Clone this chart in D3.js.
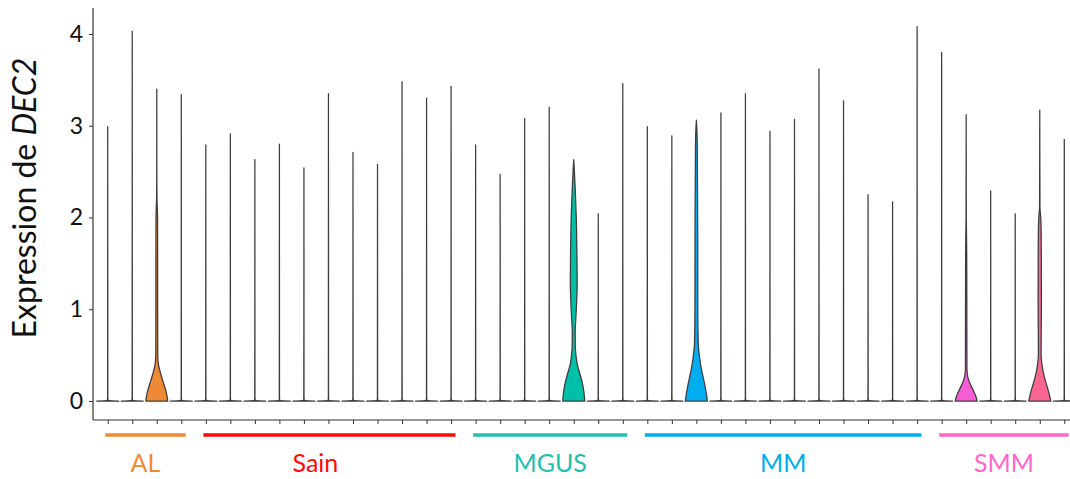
<!DOCTYPE html>
<html>
<head>
<meta charset="utf-8">
<script src="https://cdn.jsdelivr.net/npm/d3@7"></script>
<style>
  html, body { margin: 0; padding: 0; background: #fff; }
  svg { display: block; }
</style>
</head>
<body>
<svg id="chart" width="1070" height="479"></svg>
<script>
// ---------------- DATA ----------------
const groups = ["AL", "Sain", "MGUS", "MM", "SMM"];
const groupSizes = [4, 11, 7, 12, 6];
const groupColors = ["#EE8A35", "#FF0A0A", "#1EC0AF", "#00AEEF", "#FF66CC"];

const sampleIds = [
  "AL1","AL2","AL3","AL4",
  "Sain1","Sain2","Sain3","Sain4","Sain5","Sain6","Sain7","Sain8","Sain9","Sain10","Sain11",
  "MGUS1","MGUS2","MGUS3","MGUS4","MGUS5","MGUS6","MGUS7",
  "MM1","MM2","MM3","MM4","MM5","MM6","MM7","MM8","MM9","MM10","MM11","MM12",
  "SMM1","SMM2","SMM3","SMM4","SMM5","SMM6"
];
// maximum expression per sample (top of each violin)
const maxExpr = [
  2.99, 4.03, 3.40, 3.34,
  2.79, 2.91, 2.63, 2.80, 2.54, 3.35, 2.71, 2.58, 3.48, 3.30, 3.43,
  2.79, 2.47, 3.08, 3.20, 2.63, 2.04, 3.46,
  2.99, 2.89, 3.06, 3.14, 3.35, 2.94, 3.07, 3.62, 3.27, 2.25, 2.17, 4.08,
  3.80, 3.12, 2.29, 2.04, 3.17, 2.85
];
// density profiles [expression, relative half-width]
const profileDefault = [[0, 1], [0.004, 0.12], [0.012, 0.02], [0.04, 0.008]];
const profileAL3   = [[0,1],[0.1,0.85],[0.2,0.6],[0.3,0.35],[0.4,0.15],[0.5,0.09],[1.0,0.08],[1.5,0.08],[2.0,0.07],[2.2,0.02],[2.4,0.006]];
const profileMGUS5 = [[0,1],[0.1,0.92],[0.2,0.77],[0.3,0.55],[0.4,0.32],[0.5,0.2],[0.6,0.14],[0.75,0.13],[0.9,0.19],[1.1,0.27],[1.3,0.31],[1.6,0.29],[2.0,0.23],[2.3,0.14],[2.5,0.06]];
const profileMM3   = [[0,1],[0.1,0.88],[0.2,0.72],[0.34,0.47],[0.48,0.29],[0.63,0.17],[1.0,0.13],[2.0,0.12],[2.8,0.08],[3.0,0.03]];
const profileSMM2  = [[0,1],[0.06,0.85],[0.12,0.63],[0.19,0.35],[0.26,0.15],[0.35,0.07],[1.6,0.05],[2.0,0.012]];
const profileSMM5  = [[0,1],[0.12,0.76],[0.26,0.42],[0.37,0.23],[0.52,0.12],[1.1,0.15],[1.8,0.13],[2.0,0.09],[2.1,0.02]];
const profiles = { "AL3": profileAL3, "MGUS5": profileMGUS5, "MM3": profileMM3, "SMM2": profileSMM2, "SMM5": profileSMM5 };
const fillOverride = { "AL3": "#EE8A35", "MGUS5": "#00BFA9", "MM3": "#00AEEF", "SMM2": "#F55DD5", "SMM5": "#FA6690" };

const yTicks = [0, 1, 2, 3, 4];

// ---------------- LAYOUT ----------------
const svg = d3.select("#chart");
const axisLeft = 93, axisBottom = 420, axisTop = 8;
const plotRightFull = 1079;           // panel continues beyond the crop
const labelShift = { "Sain": -14 };

const x = d3.scalePoint().domain(sampleIds).range([axisLeft, plotRightFull]).padding(0.6);
const y = d3.scaleLinear().domain([-0.207, 4.283]).range([axisBottom, axisTop]);
const halfW = x.step() * 0.45;

const groupOf = [];
groups.forEach((g, gi) => { for (let k = 0; k < groupSizes[gi]; k++) groupOf.push(gi); });

// ---------------- VIOLINS ----------------
const area = d3.area()
  .curve(d3.curveMonotoneY)
  .y(d => y(d[0]));

sampleIds.forEach((id, i) => {
  const cx = x(id);
  const base = profiles[id] || profileDefault;
  const pts = base.filter(p => p[0] < maxExpr[i]).concat([[maxExpr[i], 0]]);
  const fill = fillOverride[id] || groupColors[groupOf[i]];
  svg.append("path")
    .datum(pts)
    .attr("d", area.x0(d => cx - d[1] * halfW).x1(d => cx + d[1] * halfW))
    .attr("fill", fill)
    .attr("stroke", "#3c3c3c")
    .attr("stroke-width", 1.25)
    .attr("stroke-linejoin", "round");
});

// ---------------- AXES ----------------
const fontFam = "Lato, 'Open Sans', sans-serif";
const gY = svg.append("g").attr("transform", `translate(${axisLeft},0)`)
  .call(d3.axisLeft(y).tickValues(yTicks).tickFormat(d3.format("d")).tickSize(4).tickPadding(6));
gY.select(".domain").attr("d", `M0,${axisBottom}V${axisTop}`).attr("stroke", "#333").attr("stroke-width", 1.2);
gY.selectAll(".tick line").attr("stroke", "#333");
gY.selectAll(".tick text").attr("font-family", fontFam).attr("font-size", 23).attr("fill", "#111");

const gX = svg.append("g").attr("transform", `translate(0,${axisBottom})`)
  .call(d3.axisBottom(x).tickSize(4).tickFormat(""));
gX.select(".domain").attr("d", `M${axisLeft},0H${plotRightFull}`).attr("stroke", "#333").attr("stroke-width", 1.2);
gX.selectAll(".tick line").attr("stroke", "#333");

// y title
const yTitle = svg.append("text")
  .attr("transform", `translate(36,${198}) rotate(-90)`)
  .attr("text-anchor", "middle")
  .attr("font-family", fontFam)
  .attr("font-size", 32)
  .attr("fill", "#111");
yTitle.append("tspan").text("Expression de ");
yTitle.append("tspan").attr("font-style", "italic").text("DEC2");

// ---------------- GROUP BARS ----------------
let start = 0;
groups.forEach((g, gi) => {
  const first = sampleIds[start], last = sampleIds[start + groupSizes[gi] - 1];
  const x0 = x(first) - x.step() * 0.1;
  const x1 = Math.min(1070, x(last) + x.step() * 0.18);
  svg.append("line")
    .attr("x1", x0).attr("x2", x1)
    .attr("y1", 435).attr("y2", 435)
    .attr("stroke", groupColors[gi]).attr("stroke-width", 3.5);
  svg.append("text")
    .attr("x", (x0 + x1) / 2 + (labelShift[g] || 0))
    .attr("y", 472)
    .attr("text-anchor", "middle")
    .attr("font-family", fontFam)
    .attr("font-size", 25)
    .attr("fill", groupColors[gi])
    .text(g);
  start += groupSizes[gi];
});
</script>
</body>
</html>
